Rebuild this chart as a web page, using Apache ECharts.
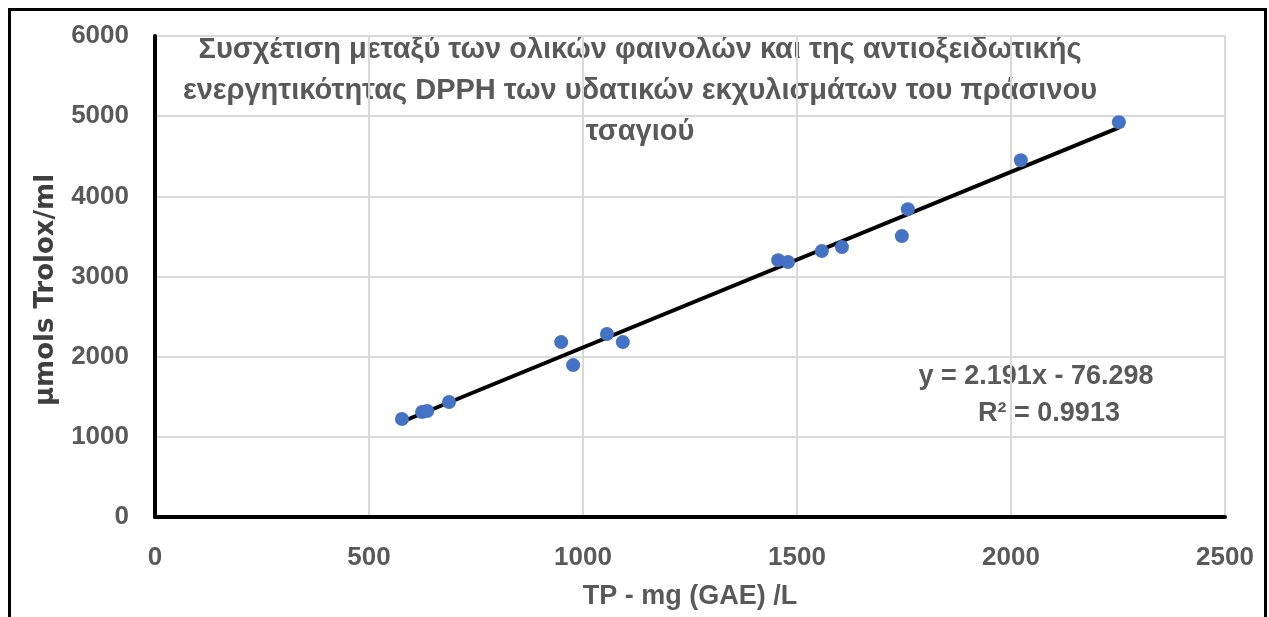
<!DOCTYPE html>
<html>
<head>
<meta charset="utf-8">
<script src="https://cdn.jsdelivr.net/npm/echarts@6/dist/echarts.min.js"></script>
<style>
html,body{margin:0;padding:0;background:#fff;}
#chart{width:1269px;height:617px;}
</style>
</head>
<body>
<div id="chart"></div>
<script>
// Data
const tpValues = [577, 624, 636, 687, 949, 977, 1056, 1093, 1456, 1479, 1558, 1605, 1745, 1759, 2023, 2252];
const troloxValues = [1222, 1309, 1322, 1434, 2182, 1895, 2282, 2182, 3204, 3180, 3317, 3367, 3504, 3840, 4451, 4925];
const trendSlope = 2.191;
const trendIntercept = -76.298;
const equationLabel = 'y = 2.191x - 76.298';
const r2Label = 'R² = 0.9913';
const titleLines = [
  'Συσχέτιση μεταξύ των ολικών φαινολών και της αντιοξειδωτικής',
  'ενεργητικότητας DPPH των υδατικών εκχυλισμάτων του πράσινου',
  'τσαγιού'
];
const xAxisName = 'TP - mg (GAE) /L';
const yAxisName = 'μmols Trolox/ml';

const points = tpValues.map((x, i) => [x, troloxValues[i]]);
const xMin = Math.min(...tpValues), xMax = Math.max(...tpValues);
const trend = [[xMin, trendSlope * xMin + trendIntercept], [xMax, trendSlope * xMax + trendIntercept]];

const gray = '#595959';
const font = '"Liberation Sans", Arial, sans-serif';
const plain = v => String(v);

const chart = echarts.init(document.getElementById('chart'));
chart.setOption({
  animation: false,
  grid: {left: 155, right: 44, top: 36, bottom: 100, containLabel: false},
  xAxis: {
    type: 'value', min: 0, max: 2500, interval: 500,
    axisLine: {show: true, onZero: false, lineStyle: {color: '#000', width: 4}},
    axisTick: {show: false},
    splitLine: {show: true, lineStyle: {color: '#d9d9d9', width: 2}},
    axisLabel: {color: gray, fontFamily: font, fontWeight: 'bold', fontSize: 26, margin: 28, formatter: plain},
    name: xAxisName, nameLocation: 'middle', nameGap: 66,
    nameTextStyle: {color: gray, fontFamily: font, fontWeight: 'bold', fontSize: 27}
  },
  yAxis: {
    type: 'value', min: 0, max: 6000, interval: 1000,
    axisLine: {show: true, onZero: false, lineStyle: {color: '#000', width: 4}},
    axisTick: {show: false},
    splitLine: {show: true, lineStyle: {color: '#d9d9d9', width: 2}},
    axisLabel: {color: gray, fontFamily: font, fontWeight: 'bold', fontSize: 26, margin: 26, formatter: plain}
  },
  graphic: [
    {type: 'rect', shape: {x: 9.5, y: 9.5, width: 1256, height: 640},
     style: {fill: 'none', stroke: '#000', lineWidth: 3}, silent: true},
    {type: 'text', x: 46, y: 290, rotation: Math.PI / 2,
     style: {text: yAxisName, fill: '#3f3f3f', font: 'bold 26px "DejaVu Sans", sans-serif', textAlign: 'center', textVerticalAlign: 'middle'}},
    ...titleLines.map((t, i) => ({
      type: 'text', x: 640, y: 50 + i * 41,
      style: {text: t, fill: gray, font: 'bold 29px ' + font, textAlign: 'center', textVerticalAlign: 'middle'}
    })),
    {type: 'text', x: 1036, y: 377,
     style: {text: equationLabel, fill: gray, font: 'bold 27px ' + font, textAlign: 'center', textVerticalAlign: 'middle'}},
    {type: 'text', x: 1049, y: 414,
     style: {text: r2Label, fill: gray, font: 'bold 27px ' + font, textAlign: 'center', textVerticalAlign: 'middle'}}
  ],
  series: [
    {type: 'line', data: trend, symbol: 'none', lineStyle: {color: '#000', width: 4}, z: 3, silent: true},
    {type: 'scatter', data: points, symbol: 'circle', symbolSize: 14, itemStyle: {color: '#4472C4', opacity: 1}, z: 4}
  ]
});
</script>
</body>
</html>
